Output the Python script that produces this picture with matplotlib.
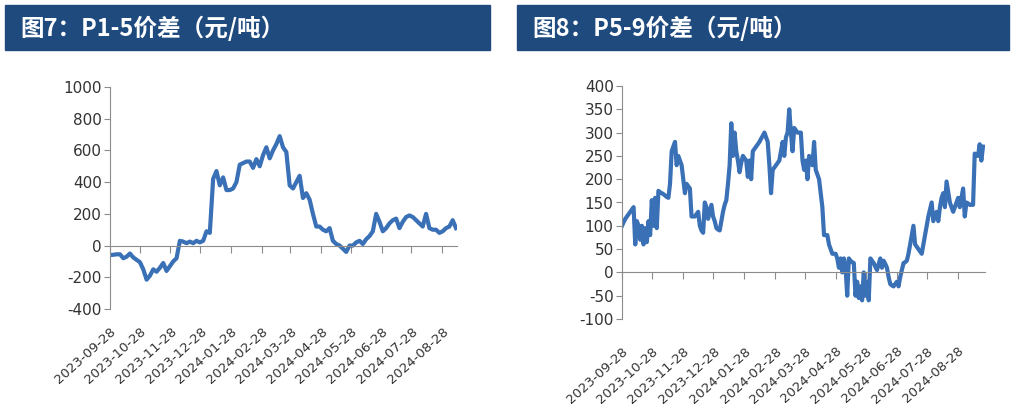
import numpy as np
import pandas as pd
import matplotlib
matplotlib.use("Agg")
import matplotlib.pyplot as plt
from matplotlib.patches import Rectangle

plt.rcParams["axes.unicode_minus"] = False

# P1-5 spread (yuan/ton)
p15 = [-60, -58, -55, -55, -80, -70, -50, -75, -90, -105,
       -150, -215, -190, -150, -165, -140, -110, -160, -130, -100,
       -80, 30, 25, 15, 25, 15, 30, 20, 30, 90,
       80, 420, 470, 380, 430, 350, 350, 360, 400, 510,
       520, 530, 530, 490, 545, 500, 570, 620, 550, 600,
       640, 690, 620, 590, 380, 360, 400, 440, 300, 330,
       290, 200, 120, 120, 100, 90, 110, 30, 10, 0,
       -20, -40, 0, 0, 20, 30, 10, 40, 60, 90,
       200, 150, 90, 110, 140, 160, 170, 110, 150, 180,
       190, 180, 160, 140, 120, 200, 110, 100, 100, 80,
       90, 110, 120, 160, 110]

# P5-9 spread (yuan/ton)
p59 = [100, 108, 115, 120, 125, 130, 135, 140, 60, 110,
       100, 70, 100, 60, 95, 65, 110, 80, 155, 100,
       160, 95, 175, 172, 170, 168, 165, 162, 160, 190,
       260, 270, 280, 230, 250, 240, 230, 200, 170, 190,
       185, 180, 120, 120, 120, 125, 130, 100, 90, 85,
       150, 140, 115, 130, 145, 120, 110, 95, 92, 90,
       110, 130, 145, 155, 190, 230, 320, 250, 300, 260,
       240, 215, 235, 250, 245, 240, 205, 240, 200, 260,
       265, 270, 275, 280, 287, 293, 300, 290, 280, 230,
       170, 220, 225, 230, 235, 240, 260, 280, 250, 290,
       300, 350, 300, 260, 310, 305, 300, 300, 300, 240,
       220, 240, 200, 250, 240, 230, 280, 220, 210, 200,
       170, 140, 80, 80, 80, 60, 50, 40, 40, 40,
       30, 10, 30, 0, 30, 10, -50, 30, 25, 22,
       20, -50, -20, -55, -30, -60, 0, -50, -20, -60,
       30, 25, 20, 12, 5, 18, 30, 10, 25, 18,
       10, -10, -25, -28, -30, -25, -20, -30, -10, 5,
       20, 22, 25, 40, 60, 80, 100, 60, 55, 50,
       45, 40, 60, 80, 100, 120, 135, 150, 110, 120,
       130, 110, 140, 160, 170, 140, 195, 172, 150, 140,
       130, 140, 150, 160, 140, 160, 180, 120, 150, 148,
       145, 145, 145, 255, 252, 250, 275, 240, 270]

d15 = pd.date_range("2023-09-28", "2024-09-11", periods=len(p15))
d59 = pd.date_range("2023-09-28", "2024-09-22", periods=len(p59))

tick_dates = pd.to_datetime(["2023-09-28", "2023-10-28", "2023-11-28", "2023-12-28",
                             "2024-01-28", "2024-02-28", "2024-03-28", "2024-04-28",
                             "2024-05-28", "2024-06-28", "2024-07-28", "2024-08-28"])
tick_labels = [d.strftime("%Y-%m-%d") for d in tick_dates]

titles = ["图7：P1-5价差（元/吨）", "图8：P5-9价差（元/吨）"]

W, H = 1033, 419
fig = plt.figure(figsize=(W / 100, H / 100), dpi=100)

line_color = "#3A70B6"
axis_color = "#8C8C8C"
bar_color = "#1F4A7E"


def px_box(x0, y0, x1, y1):
    return [x0 / W, 1 - y1 / H, (x1 - x0) / W, (y1 - y0) / H]


def style_axis(ax, ylim, yticks, xend, pad):
    for s in ["top", "right"]:
        ax.spines[s].set_visible(False)
    ax.spines["left"].set_color(axis_color)
    ax.spines["bottom"].set_color(axis_color)
    ax.spines["bottom"].set_position(("data", 0))
    ax.set_ylim(*ylim)
    ax.set_yticks(yticks)
    ax.set_xlim(pd.Timestamp("2023-09-28"), pd.Timestamp(xend))
    ax.set_xticks(tick_dates)
    ax.set_xticklabels(tick_labels, rotation=42, ha="right", va="top",
                       rotation_mode="anchor", fontsize=9.5, color="#333333")
    ax.tick_params(axis="x", direction="out", length=5, color=axis_color, pad=pad)
    ax.tick_params(axis="y", direction="out", length=4, color=axis_color,
                   labelsize=11, labelcolor="#333333", pad=2)


# left chart
ax1 = fig.add_axes(px_box(110, 87, 457, 309))
ax1.plot(d15, p15, color=line_color, lw=3.0, solid_joinstyle="round")
style_axis(ax1, (-400, 1000), np.arange(-400, 1001, 200), "2024-09-12", 52)

# right chart
ax2 = fig.add_axes(px_box(622, 86, 985, 319))
ax2.plot(d59, p59, color=line_color, lw=3.0, solid_joinstyle="round")
style_axis(ax2, (-100, 400), np.arange(-100, 401, 50), "2024-09-24", 47)

# title bars
for (x0, x1, tx), title in zip([(5, 490, 20), (517, 1009, 532)], titles):
    fig.add_artist(Rectangle((x0 / W, 1 - 50 / H), (x1 - x0) / W, 45 / H,
                             transform=fig.transFigure, color=bar_color, zorder=0))
    fig.text(tx / W, 1 - 28 / H, title, color="white", fontsize=17, fontweight="bold",
             va="center", ha="left", family=["Noto Sans CJK SC", "DejaVu Sans"])

plt.savefig("out.png", dpi=100)
